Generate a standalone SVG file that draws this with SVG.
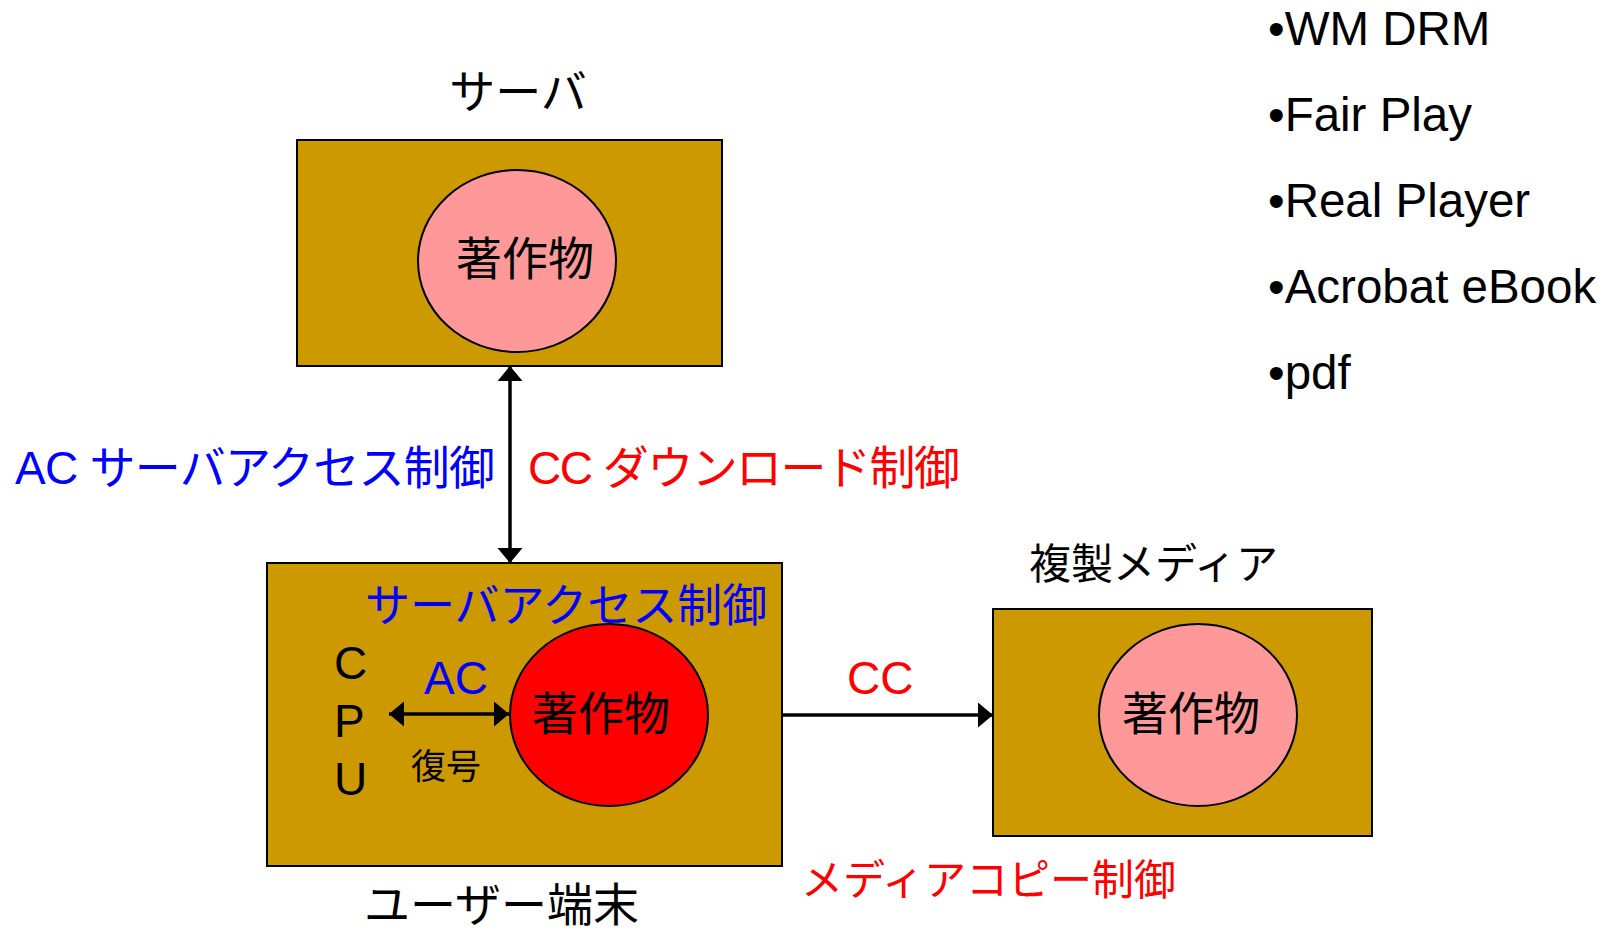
<svg xmlns="http://www.w3.org/2000/svg" width="1609" height="930" viewBox="0 0 1609 930">
<style>
  text { font-family: "Liberation Sans", "Noto Sans CJK JP", sans-serif; font-size: 46px; fill: #000; }
  .blue { fill: #0000FF; }
  .red { fill: #FF0000; }
  .s45 { font-size: 45px; }
  .s42 { font-size: 42px; }
  .s35 { font-size: 35px; }
  .list { font-size: 47.5px; }
  .box { fill: #CC9900; stroke: #000; stroke-width: 2; }
  .pink { fill: #FF9999; stroke: #000; stroke-width: 2; }
  .redc { fill: #FF0000; stroke: #000; stroke-width: 2; }
  .conn { stroke: #000; stroke-width: 3.5; fill: none; }
</style>
<defs>
  <marker id="ah" markerUnits="userSpaceOnUse" markerWidth="16" markerHeight="26" refX="15" refY="12.5" orient="auto-start-reverse" viewBox="0 0 16 26">
    <path d="M0,0 L15,12.5 L0,25 Z" fill="#000"/>
  </marker>
</defs>
<rect width="1609" height="930" fill="#fff"/>

<g id="server">
  <text x="518" y="108" text-anchor="middle">サーバ</text>
  <rect class="box" x="297" y="140" width="425" height="226"/>
  <ellipse class="pink" cx="517" cy="261" rx="99" ry="91"/>
  <text x="525" y="275" text-anchor="middle">著作物</text>
</g>

<g id="user-terminal">
  <rect class="box" x="267" y="563" width="515" height="303"/>
  <text class="blue s45" x="365" y="622">サーバアクセス制御</text>
  <text x="334" y="679">C</text>
  <text x="334" y="737">P</text>
  <text x="334" y="795">U</text>
  <text class="blue" x="424" y="694">AC</text>
  <text class="s35" x="411" y="779">復号</text>
  <ellipse class="redc" cx="609" cy="715" rx="99" ry="91"/>
  <text x="532" y="730">著作物</text>
  <text x="364" y="921">ユーザー端末</text>
</g>

<g id="media">
  <text class="s42" x="1029" y="579">複製メディア</text>
  <rect class="box" x="993" y="609" width="379" height="227"/>
  <ellipse class="pink" cx="1198" cy="715" rx="99" ry="91"/>
  <text x="1122" y="730">著作物</text>
</g>

<g id="labels">
  <text class="blue" x="15" y="484" textLength="480" lengthAdjust="spacing">AC サーバアクセス制御</text>
  <text class="red" x="528" y="484" textLength="432" lengthAdjust="spacing">CC ダウンロード制御</text>
  <text class="red" x="847" y="694">CC</text>
  <text class="red s42" x="801" y="895">メディアコピー制御</text>
</g>

<g id="list">
  <text class="list" x="1268" y="45">•WM DRM</text>
  <text class="list" x="1268" y="131">•Fair Play</text>
  <text class="list" x="1268" y="217">•Real Player</text>
  <text class="list" x="1268" y="303">•Acrobat eBook</text>
  <text class="list" x="1268" y="389">•pdf</text>
</g>

<g id="connectors">
  <line class="conn" x1="510" y1="366" x2="510" y2="563" marker-start="url(#ah)" marker-end="url(#ah)"/>
  <line class="conn" x1="389" y1="714" x2="509" y2="714" marker-start="url(#ah)" marker-end="url(#ah)"/>
  <line class="conn" x1="782" y1="715" x2="993" y2="715" marker-end="url(#ah)"/>
</g>
</svg>
